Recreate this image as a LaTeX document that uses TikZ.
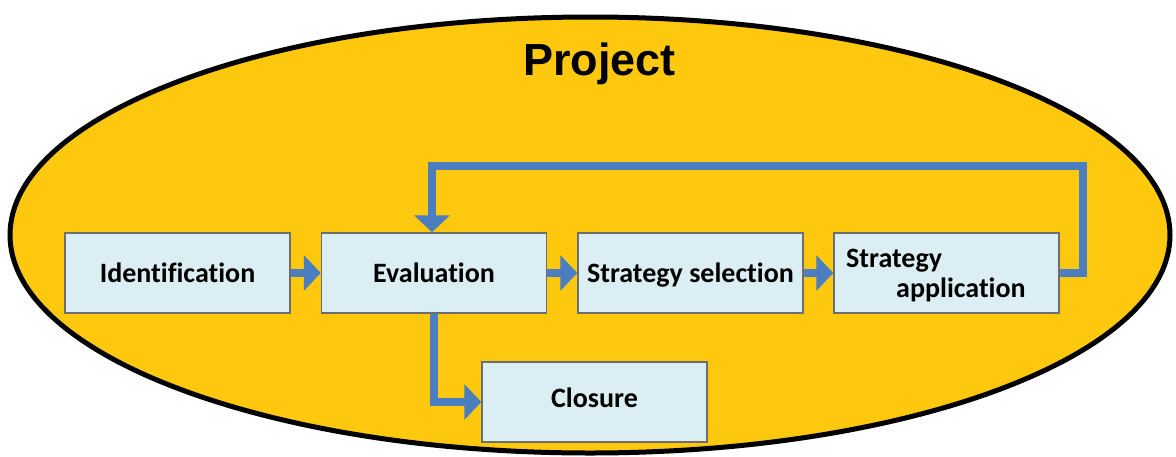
\documentclass[tikz,border=0pt]{standalone}
\usepackage{fontspec}
\setmainfont[Ligatures=NoCommon]{Carlito}
\newfontfamily\titlefont{Liberation Sans}
\usetikzlibrary{arrows.meta}
\definecolor{projgold}{RGB}{254,200,14}
\definecolor{boxfill}{RGB}{218,238,243}
\definecolor{boxline}{RGB}{110,110,110}
\definecolor{flowblue}{RGB}{74,126,193}
\begin{document}
\begin{tikzpicture}[x=1pt,y=-1pt,
  stagetext/.style={font=\bfseries\fontsize{28}{30}\selectfont, inner sep=0pt},
  stage/.style={draw=boxline, line width=1.5pt, fill=boxfill,
    minimum width=225pt, minimum height=80pt, inner sep=0pt,
    stagetext, text height=18pt, text depth=0pt},
  flow/.style={draw=flowblue, line width=8pt, line join=miter,
    -{Triangle[length=17pt,width=35pt]}}]
\useasboundingbox (0,0) rectangle (1176,456);

% project ellipse
\draw[line width=5pt, fill=projgold] (590,235) ellipse [x radius=580, y radius=218];
\node[font=\titlefont\bfseries\fontsize{45}{50}\selectfont, anchor=base, inner sep=0pt]
  (title) at (599.5,75) {Project};

% stages
\node[stage] (ident)  at (177.5,273) {Identification};
\node[stage] (eval)   at (434,273)   {Evaluation};
\node[stage] (select) at (690.5,273) {Strategy selection};
\node[stage] (apply)  at (946.5,273) {};
\node[stagetext, anchor=base west] (applyA) at (846,267) {Strategy};
\node[stagetext, anchor=base west] (applyB) at (896,297) {application};
\node[stage] (close)  at (594.5,402) {};
\node[stagetext, anchor=base] (closeT) at (594.5,407) {Closure};

% flow
\coordinate (loopR) at (1083,166);
\coordinate (loopL) at (432,166);
\draw[flow] (ident.east) -- (eval.west);
\draw[flow] (eval.east) -- (select.west);
\draw[flow] (select.east) -- (apply.west);
\draw[flow] (apply.east) -| (loopR) -- (loopL) -- (loopL |- eval.north);
\draw[flow] (eval.south) |- (close.west);
\end{tikzpicture}
\end{document}
